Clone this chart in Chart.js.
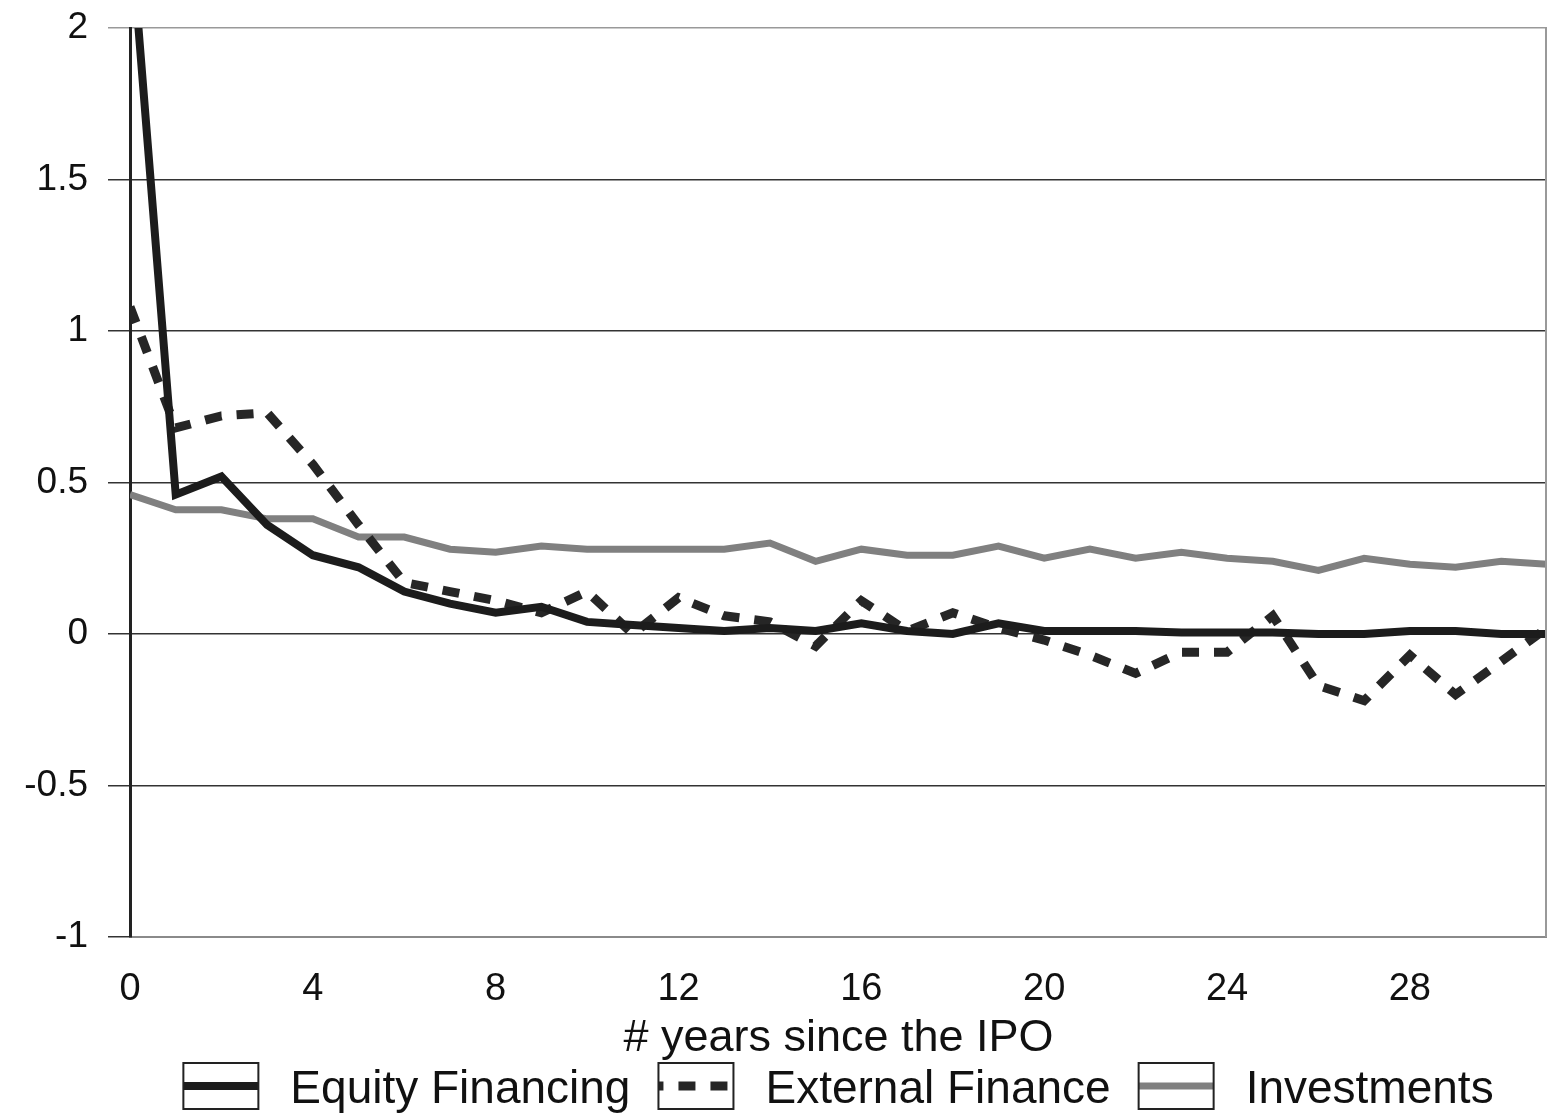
<!DOCTYPE html>
<html>
<head>
<meta charset="utf-8">
<script src="https://cdn.jsdelivr.net/npm/chart.js@4.4.1/dist/chart.umd.min.js"></script>
<style>
  html, body { margin: 0; padding: 0; background: #fff; }
  #wrap { width: 1547px; height: 1120px; position: relative; }
</style>
</head>
<body>
<div id="wrap"><canvas id="grafico"></canvas></div>
<script>
var anos = [0, 1, 2, 3, 4, 5, 6, 7, 8, 9, 10, 11, 12, 13, 14, 15,
            16, 17, 18, 19, 20, 21, 22, 23, 24, 25, 26, 27, 28, 29, 30, 31];

var equityFinancing = [2.35, 0.46, 0.52, 0.36, 0.26, 0.22, 0.14, 0.10, 0.07, 0.09, 0.04, 0.03,
                       0.02, 0.01, 0.02, 0.01, 0.035, 0.01, 0.00, 0.035, 0.01, 0.01, 0.01, 0.005,
                       0.005, 0.005, 0.00, 0.00, 0.01, 0.01, 0.00, 0.00];

var externalFinance = [1.08, 0.68, 0.72, 0.73, 0.56, 0.36, 0.17, 0.14, 0.11, 0.07, 0.14, 0.00,
                       0.12, 0.06, 0.04, -0.04, 0.11, 0.01, 0.07, 0.02, -0.02, -0.07, -0.13, -0.06,
                       -0.06, 0.06, -0.17, -0.22, -0.07, -0.20, -0.09, 0.02];

var investments = [0.46, 0.41, 0.41, 0.38, 0.38, 0.32, 0.32, 0.28, 0.27, 0.29, 0.28, 0.28,
                   0.28, 0.28, 0.30, 0.24, 0.28, 0.26, 0.26, 0.29, 0.25, 0.28, 0.25, 0.27,
                   0.25, 0.24, 0.21, 0.25, 0.23, 0.22, 0.24, 0.23];

var xTicks = [0, 4, 8, 12, 16, 20, 24, 28];
var fonte = '"Liberation Sans", Arial, Helvetica, sans-serif';

function pontos(valores) {
    return anos.map(function(a, i) { return { x: a, y: valores[i] }; });
}

// legenda com caixinhas, desenhada embaixo do eixo
var legendaCaixas = {
    id: 'legendaCaixas',
    afterDraw: function(chart) {
        var ctx = chart.ctx;
        var area = chart.chartArea;
        var iconW = 75, iconH = 46, gapIcon = 32, gapItem = 28;
        ctx.save();
        ctx.font = '46px ' + fonte;
        var itens = chart.data.datasets.map(function(ds) {
            return { ds: ds, w: ctx.measureText(ds.label).width };
        });
        var total = 0;
        itens.forEach(function(it) { total += iconW + gapIcon + it.w; });
        total += gapItem * (itens.length - 1);
        var x = (area.left + area.right) / 2 - total / 2;
        var cy = chart.height - 34;

        itens.forEach(function(it) {
            var ds = it.ds;
            ctx.fillStyle = '#fff';
            ctx.fillRect(x, cy - iconH / 2, iconW, iconH);
            ctx.save();
            ctx.beginPath();
            ctx.rect(x, cy - iconH / 2, iconW, iconH);
            ctx.clip();
            ctx.strokeStyle = ds.borderColor;
            ctx.lineWidth = ds.borderWidth;
            ctx.setLineDash(ds.borderDash || []);
            ctx.lineDashOffset = ds.borderDash ? 12 : 0;
            ctx.beginPath();
            ctx.moveTo(x, cy);
            ctx.lineTo(x + iconW, cy);
            ctx.stroke();
            ctx.restore();
            ctx.setLineDash([]);
            ctx.strokeStyle = '#222';
            ctx.lineWidth = 2;
            ctx.strokeRect(x, cy - iconH / 2, iconW, iconH);

            ctx.fillStyle = '#111';
            ctx.textBaseline = 'middle';
            ctx.textAlign = 'left';
            ctx.fillText(ds.label, x + iconW + gapIcon, cy + 4);
            x += iconW + gapIcon + it.w + gapItem;
        });

        // borda direita
        ctx.strokeStyle = '#999';
        ctx.lineWidth = 2;
        ctx.beginPath();
        ctx.moveTo(area.right - 1, area.top);
        ctx.lineTo(area.right - 1, area.bottom);
        ctx.stroke();
        ctx.restore();
    }
};

var ctx = document.getElementById('grafico');
var grafico = new Chart(ctx, {
    type: 'line',
    data: {
        datasets: [{
            label: 'Equity Financing',
            data: pontos(equityFinancing),
            borderColor: '#1c1c1c',
            borderWidth: 8,
            pointRadius: 0,
            tension: 0
        }, {
            label: 'External Finance',
            data: pontos(externalFinance),
            borderColor: '#262626',
            borderWidth: 9,
            borderDash: [17, 15],
            borderCapStyle: 'butt',
            pointRadius: 0,
            tension: 0
        }, {
            label: 'Investments',
            data: pontos(investments),
            borderColor: '#808080',
            borderWidth: 7,
            pointRadius: 0,
            tension: 0
        }]
    },
    options: {
        responsive: true,
        maintainAspectRatio: false,
        animation: false,
        layout: { padding: { top: 28, right: 0, bottom: 54, left: 0 } },
        plugins: {
            legend: { display: false },
            tooltip: { enabled: false }
        },
        scales: {
            x: {
                type: 'linear',
                min: 0,
                max: 31,
                afterBuildTicks: function(scale) {
                    scale.ticks = xTicks.map(function(v) { return { value: v }; });
                },
                afterFit: function(scale) {
                    scale.height = 129;
                    scale.paddingLeft = 0;
                    scale.paddingRight = 0;
                },
                grid: { display: false },
                border: { display: true, color: '#8a8a8a', width: 2 },
                ticks: {
                    padding: 22,
                    maxRotation: 0,
                    color: '#111',
                    font: { family: fonte, size: 38 }
                },
                title: {
                    display: true,
                    text: '# years since the IPO',
                    color: '#111',
                    font: { family: fonte, size: 45 },
                    padding: { top: 0, bottom: 0 }
                }
            },
            y: {
                min: -1,
                max: 2,
                afterFit: function(scale) {
                    scale.width = 130;
                    scale.paddingTop = 0;
                    scale.paddingBottom = 0;
                },
                grid: {
                    color: function(c) { return c.tick && c.tick.value === 2 ? '#999' : '#333'; },
                    lineWidth: 1.5,
                    drawTicks: true,
                    tickLength: 22
                },
                border: { display: true, color: '#222', width: 3 },
                ticks: {
                    stepSize: 0.5,
                    padding: 20,
                    color: '#111',
                    font: { family: fonte, size: 37 },
                    callback: function(v) { return String(v); }
                }
            }
        }
    },
    plugins: [legendaCaixas]
});
</script>
</body>
</html>
